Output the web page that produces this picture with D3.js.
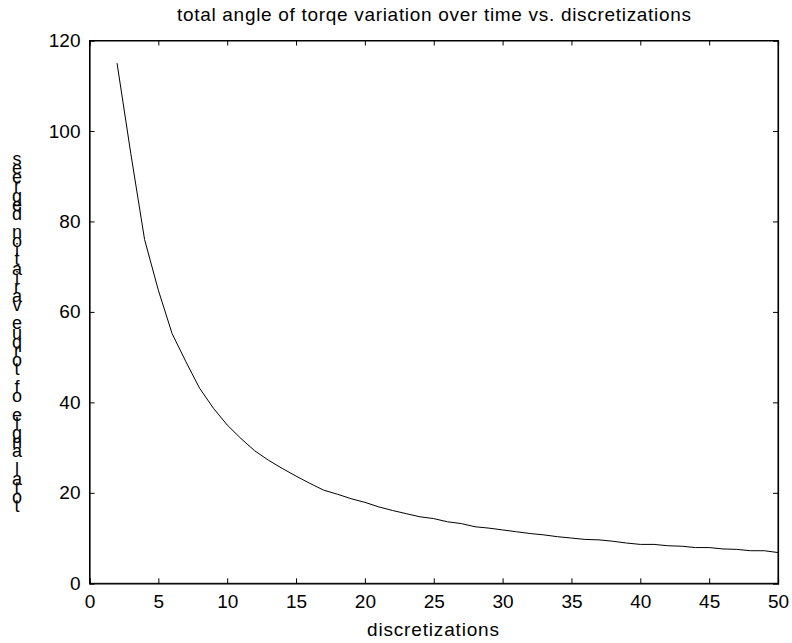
<!DOCTYPE html>
<html><head><meta charset="utf-8">
<script src="https://cdn.jsdelivr.net/npm/d3@7"></script>
<style>body{margin:0;background:#fff}text{font-family:Arial,"Liberation Sans",sans-serif;fill:#000}</style>
</head><body>
<script>
const titleText = "total angle of torqe variation over time vs. discretizations";
const xLabelText = "discretizations";
const yLabelText = "total angle of torque variation degrees";
const xValues = [2,3,4,5,6,7,8,9,10,11,12,13,14,15,16,17,18,19,20,21,22,23,24,25,26,27,28,29,30,31,32,33,34,35,36,37,38,39,40,41,42,43,44,45,46,47,48,49,50];
const yValues = [115,95,76,64.8,55.2,49,43.1,38.7,35,32,29.3,27.2,25.4,23.7,22.1,20.6,19.7,18.7,17.9,16.9,16.1,15.4,14.7,14.3,13.6,13.2,12.5,12.2,11.8,11.4,11.0,10.7,10.3,10.0,9.7,9.6,9.3,8.9,8.6,8.6,8.3,8.2,7.9,7.9,7.6,7.5,7.2,7.2,6.8];
const xTicks = [0,5,10,15,20,25,30,35,40,45,50];
const yTicks = [0,20,40,60,80,100,120];

const W=792,H=643;
const L=89.5,R=778,T=40.5,B=583.3;
const FS=19;
const svg=d3.select("body").append("svg").attr("width",W).attr("height",H);
const x=d3.scaleLinear().domain([0,50]).range([L,R]);
const y=d3.scaleLinear().domain([0,120]).range([B,T]);

const tl=5;
svg.append("rect").attr("x",L).attr("y",T).attr("width",R-L).attr("height",B-T)
  .attr("fill","none").attr("stroke","#000").attr("stroke-width",1);

const xb=svg.append("g").attr("transform",`translate(0,${B})`)
  .call(d3.axisBottom(x).tickValues(xTicks).tickSize(-tl).tickPadding(11).tickFormat(d3.format("d")));
const xt=svg.append("g").attr("transform",`translate(0,${T})`)
  .call(d3.axisTop(x).tickValues(xTicks).tickSize(-tl).tickFormat(""));
const yl=svg.append("g").attr("transform",`translate(${L},0)`)
  .call(d3.axisLeft(y).tickValues(yTicks).tickSize(-tl).tickPadding(9).tickFormat(d3.format("d")));
const yr=svg.append("g").attr("transform",`translate(${R},0)`)
  .call(d3.axisRight(y).tickValues(yTicks).tickSize(-tl).tickFormat(""));
[xb,xt,yl,yr].forEach(g=>{
  g.select(".domain").attr("stroke","#000").attr("stroke-width",1.2);
  g.selectAll(".tick line").attr("stroke","#000");
  g.selectAll("text").attr("font-size",FS).attr("font-family","Arial, 'Liberation Sans', sans-serif").attr("fill","#000");
});

svg.append("path").datum(d3.zip(xValues,yValues))
  .attr("fill","none").attr("stroke","#000").attr("stroke-width",1)
  .attr("d",d3.line().x(d=>x(d[0])).y(d=>y(d[1])));

svg.append("text").attr("x",434).attr("y",21).attr("text-anchor","middle")
  .attr("font-size",FS).attr("textLength",514).attr("lengthAdjust","spacing").text(titleText);
svg.append("text").attr("x",433).attr("y",636).attr("text-anchor","middle")
  .attr("font-size",FS).attr("textLength",132).attr("lengthAdjust","spacing").text(xLabelText);

const chars=yLabelText.split("").reverse();
const step=(500-153)/(chars.length-1);
svg.append("g").selectAll("text").data(chars).join("text")
  .attr("x",17).attr("y",(d,i)=>165+i*step).attr("text-anchor","middle")
  .attr("font-size",18).text(d=>d);
</script>
</body></html>
